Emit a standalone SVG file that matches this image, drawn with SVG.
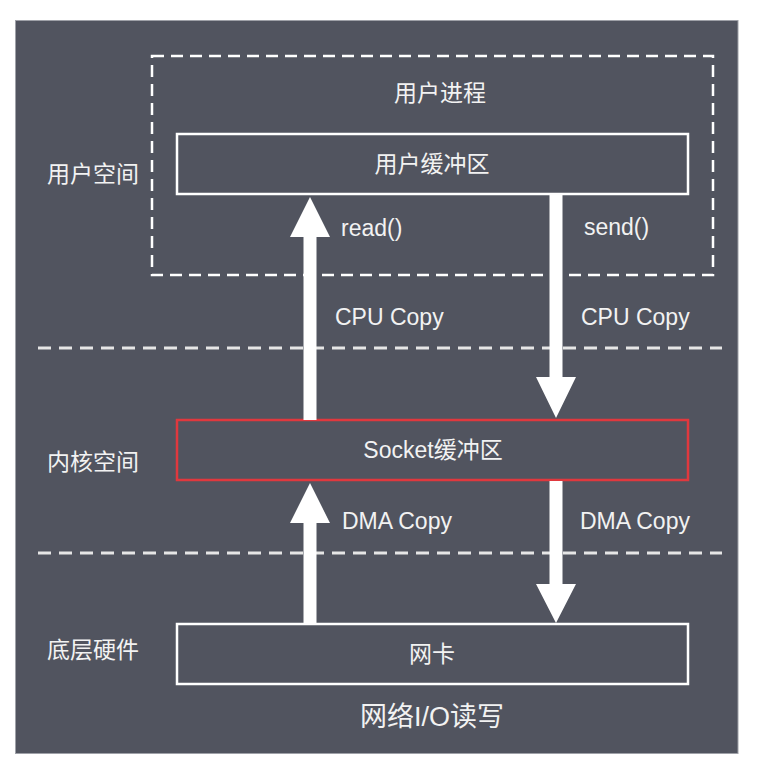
<svg xmlns="http://www.w3.org/2000/svg" width="784" height="768" viewBox="0 0 784 768">
<style>
.t{font-family:"Liberation Sans","Noto Sans CJK SC",sans-serif;font-size:23px;fill:#f2f2f2}
.m{text-anchor:middle}
.box{fill:none;stroke:#ffffff;stroke-width:2.5}
.sep{stroke:#e6e6e6;stroke-width:3;stroke-dasharray:13 8;fill:none}
.arr{fill:#ffffff}
</style>
<rect x="0" y="0" width="784" height="768" fill="#ffffff"/>
<rect x="15.5" y="20.5" width="722.5" height="733" fill="#51545f" stroke="#9fa1a8" stroke-width="1"/>
<g id="separators">
<line class="sep" x1="38" y1="348" x2="722" y2="348"/>
<line class="sep" x1="38" y1="553" x2="722" y2="553"/>
</g>
<g id="user-process">
<rect x="152" y="56" width="561" height="219" fill="none" stroke="#ffffff" stroke-width="2.5" stroke-dasharray="12 7"/>
<text class="t m" x="440" y="101">用户进程</text>
</g>
<g id="layer-labels">
<text class="t" x="47" y="182">用户空间</text>
<text class="t" x="47" y="470">内核空间</text>
<text class="t" x="47" y="658">底层硬件</text>
</g>
<g id="user-buffer">
<rect class="box" x="177" y="134" width="511" height="60"/>
<text class="t m" x="432" y="172">用户缓冲区</text>
</g>
<g id="socket-buffer">
<rect x="177" y="420" width="511" height="60" fill="none" stroke="#e0383e" stroke-width="2.5"/>
<text class="t m" x="433" y="458">Socket缓冲区</text>
</g>
<g id="nic">
<rect class="box" x="177" y="624" width="511" height="60"/>
<text class="t m" x="432" y="662">网卡</text>
</g>
<g id="connectors">
<polygon class="arr" points="303.5,420 303.5,237 290,237 310,197 330,237 316.5,237 316.5,420"/>
<polygon class="arr" points="549.5,195 549.5,377 536,377 556,418 576,377 562.5,377 562.5,195"/>
<polygon class="arr" points="303.5,624 303.5,523 290,523 310,483 330,523 316.5,523 316.5,624"/>
<polygon class="arr" points="549.5,481 549.5,584 536,584 556,623 576,584 562.5,584 562.5,481"/>
<text class="t" x="341" y="236">read()</text>
<text class="t" x="584" y="235">send()</text>
<text class="t" x="335" y="325">CPU Copy</text>
<text class="t" x="581" y="325">CPU Copy</text>
<text class="t" x="342" y="529">DMA Copy</text>
<text class="t" x="580" y="529">DMA Copy</text>
</g>
<g id="title">
<text class="t m" x="432" y="726" style="font-size:27px">网络I/O读写</text>
</g>
</svg>
